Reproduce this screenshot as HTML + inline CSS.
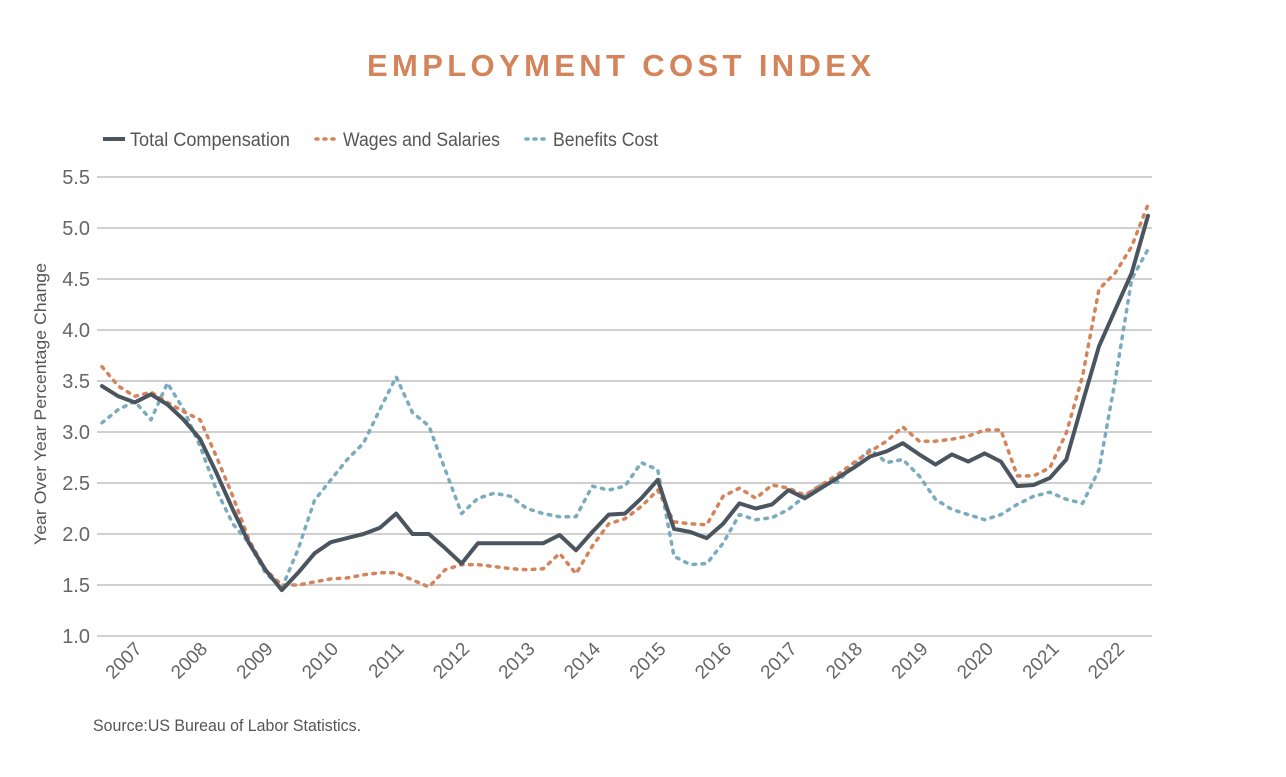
<!DOCTYPE html>
<html><head><meta charset="utf-8"><style>
body{margin:0;background:#fff;}
svg text{font-family:"Liberation Sans",sans-serif;}
</style></head><body>
<svg id="chart" width="1286" height="772" viewBox="0 0 1286 772">
<text x="621" y="76" text-anchor="middle" font-size="31" font-weight="bold" fill="#d4845a" letter-spacing="4" textLength="508" lengthAdjust="spacing">EMPLOYMENT COST INDEX</text>
<g>
 <g><line x1="103" y1="139" x2="125" y2="139" stroke="#4a5560" stroke-width="4"/><text x="130" y="146" font-size="19" fill="#555" textLength="160" lengthAdjust="spacingAndGlyphs">Total Compensation</text></g>
 <g><line x1="316" y1="139" x2="338" y2="139" stroke="#d4845a" stroke-width="3.5" stroke-dasharray="2 6" stroke-linecap="round"/><text x="343" y="146" font-size="19" fill="#555" textLength="157" lengthAdjust="spacingAndGlyphs">Wages and Salaries</text></g>
 <g><line x1="526" y1="139" x2="548" y2="139" stroke="#7aabbf" stroke-width="3.5" stroke-dasharray="2 6" stroke-linecap="round"/><text x="553" y="146" font-size="19" fill="#555" textLength="105" lengthAdjust="spacingAndGlyphs">Benefits Cost</text></g>
</g>
<text transform="translate(46,404) rotate(-90)" text-anchor="middle" font-size="17" fill="#555" textLength="282" lengthAdjust="spacingAndGlyphs">Year Over Year Percentage Change</text>
<g id="grid"></g>
<g id="yticks"></g>
<g id="xticks"></g>
<g id="series"></g>
<text x="93" y="731" font-size="17" fill="#555" textLength="268" lengthAdjust="spacingAndGlyphs">Source:US Bureau of Labor Statistics.</text>
</svg>
<script>
const yTicks=[1.0,1.5,2.0,2.5,3.0,3.5,4.0,4.5,5.0,5.5];
const years=["2007","2008","2009","2010","2011","2012","2013","2014","2015","2016","2017","2018","2019","2020","2021","2022"];
const total=[3.45,3.35,3.29,3.37,3.27,3.12,2.93,2.6,2.24,1.91,1.65,1.45,1.62,1.81,1.92,1.96,2.0,2.06,2.2,2.0,2.0,1.86,1.71,1.91,1.91,1.91,1.91,1.91,1.99,1.84,2.02,2.19,2.2,2.35,2.53,2.05,2.02,1.96,2.1,2.3,2.25,2.29,2.43,2.35,2.45,2.55,2.65,2.76,2.81,2.89,2.78,2.68,2.78,2.71,2.79,2.71,2.47,2.48,2.55,2.73,3.29,3.84,4.2,4.56,5.12];
const wages=[3.64,3.45,3.35,3.39,3.29,3.2,3.12,2.76,2.37,1.94,1.65,1.5,1.5,1.53,1.56,1.57,1.6,1.62,1.62,1.55,1.48,1.65,1.7,1.7,1.68,1.66,1.65,1.66,1.81,1.61,1.88,2.1,2.15,2.27,2.43,2.12,2.1,2.09,2.37,2.45,2.35,2.48,2.45,2.38,2.48,2.58,2.7,2.81,2.91,3.05,2.91,2.91,2.93,2.96,3.02,3.02,2.57,2.57,2.65,2.99,3.55,4.4,4.56,4.82,5.23];
const benefits=[3.09,3.22,3.3,3.12,3.48,3.22,2.86,2.43,2.1,1.91,1.62,1.47,1.85,2.33,2.53,2.73,2.89,3.22,3.54,3.19,3.06,2.63,2.2,2.35,2.4,2.37,2.25,2.2,2.17,2.17,2.47,2.43,2.47,2.7,2.63,1.78,1.7,1.71,1.91,2.19,2.14,2.16,2.24,2.37,2.48,2.51,2.68,2.83,2.7,2.73,2.57,2.34,2.24,2.19,2.14,2.19,2.29,2.37,2.41,2.34,2.3,2.63,3.51,4.5,4.79];
const NS="http://www.w3.org/2000/svg";
const X0=102,X1=1148,GX0=97,GX1=1152;
const yS=v=>636-(v-1)*(636-177)/4.5;
const xS=i=>X0+i*(X1-X0)/(total.length-1);
const yearX=k=>125+k*65.5;
function mk(tag,attrs,parent){const e=document.createElementNS(NS,tag);for(const k in attrs)e.setAttribute(k,attrs[k]);parent.appendChild(e);return e;}
const grid=document.getElementById('grid'),yt=document.getElementById('yticks'),xt=document.getElementById('xticks'),ser=document.getElementById('series');
yTicks.forEach(v=>{
 const l=mk('line',{x1:GX0,x2:GX1,y1:yS(v),y2:yS(v),stroke:'#d0d0d0','stroke-width':2},grid);
 
 
 const t=mk('text',{x:90,y:yS(v)+7,'text-anchor':'end','font-size':20,fill:'#666'},yt);
 t.textContent=v.toFixed(1);
 
 
});
years.forEach((y,k)=>{
 const x=yearX(k)+18,yy=650;
 const t=mk('text',{x:x,y:yy,'text-anchor':'end','font-size':19,fill:'#666',transform:`rotate(-45 ${x} ${yy})`},xt);
 t.textContent=y;
 
 
});
function line(data,color,w,dash,name){
 const d=data.map((v,i)=>(i?'L':'M')+xS(i).toFixed(1)+' '+yS(v).toFixed(1)).join(' ');
 const p=mk('path',{d:d,fill:'none',stroke:color,'stroke-width':w,'stroke-linejoin':'round','stroke-linecap':'round'},ser);
 if(dash)p.setAttribute('stroke-dasharray',dash);
 
 
}
line(benefits,'#7aabbf',3.5,'2.5 6.5','benefits-cost-line');
line(wages,'#d4845a',3.5,'2.5 6.5','wages-salaries-line');
line(total,'#4a5560',4,null,'total-compensation-line');
</script>
</body></html>
